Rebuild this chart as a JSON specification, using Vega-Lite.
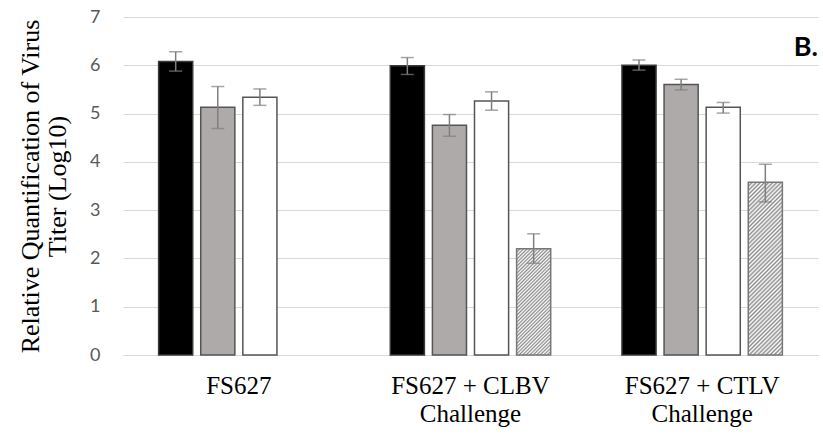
{
  "$schema": "https://vega.github.io/schema/vega-lite/v6.json",
  "width": 695,
  "height": 338,
  "autosize": {"type": "none"},
  "padding": {"left": 123, "top": 17, "right": 5, "bottom": 81},
  "background": "white",
  "config": {"view": {"stroke": null}},
  "title": {"text": "B.", "anchor": "end", "frame": "group", "offset": -75, "font": "Lato", "fontSize": 27, "fontWeight": "bold", "color": "#000000", "baseline": "alphabetic"},
  "data": {
    "values": [
      {"group": "FS627", "series": "S1", "value": 6.08, "lo": 5.88, "hi": 6.28},
      {"group": "FS627", "series": "S2", "value": 5.13, "lo": 4.69, "hi": 5.56},
      {"group": "FS627", "series": "S3", "value": 5.34, "lo": 5.17, "hi": 5.51},
      {"group": "FS627 + CLBV Challenge", "series": "S1", "value": 5.99, "lo": 5.81, "hi": 6.16},
      {"group": "FS627 + CLBV Challenge", "series": "S2", "value": 4.76, "lo": 4.53, "hi": 4.98},
      {"group": "FS627 + CLBV Challenge", "series": "S3", "value": 5.26, "lo": 5.07, "hi": 5.45},
      {"group": "FS627 + CLBV Challenge", "series": "S4", "value": 2.2, "lo": 1.9, "hi": 2.51},
      {"group": "FS627 + CTLV Challenge", "series": "S1", "value": 6.0, "lo": 5.9, "hi": 6.11},
      {"group": "FS627 + CTLV Challenge", "series": "S2", "value": 5.6, "lo": 5.49, "hi": 5.71},
      {"group": "FS627 + CTLV Challenge", "series": "S3", "value": 5.13, "lo": 5.01, "hi": 5.23},
      {"group": "FS627 + CTLV Challenge", "series": "S4", "value": 3.58, "lo": 3.17, "hi": 3.95}
    ]
  },
  "encoding": {
    "x": {
      "field": "group", "type": "nominal",
      "sort": ["FS627", "FS627 + CLBV Challenge", "FS627 + CTLV Challenge"],
      "scale": {"paddingInner": 0.273, "paddingOuter": 0.1365},
      "axis": {
        "title": null, "labelAngle": 0, "ticks": false, "tickSize": 0,
        "domain": true, "domainColor": "#d9d9d9", "domainWidth": 1,
        "labelFont": "Liberation Serif", "labelFontSize": 25, "labelColor": "#000000",
        "labelPadding": 18, "labelLineHeight": 28,
        "labelExpr": "indexof(datum.label, ' Challenge') > 0 ? [replace(datum.label, ' Challenge', ''), 'Challenge'] : datum.label"
      }
    },
    "xOffset": {
      "field": "series", "type": "nominal", "sort": ["S1", "S2", "S3", "S4"],
      "scale": {"paddingInner": 0.19, "paddingOuter": 0.095}
    }
  },
  "layer": [
    {
      "mark": {"type": "bar", "strokeWidth": 1.5},
      "encoding": {
        "y": {
          "field": "value", "type": "quantitative",
          "scale": {"domain": [0, 7], "nice": false},
          "axis": {
            "values": [0, 1, 2, 3, 4, 5, 6, 7], "domain": false, "ticks": false, "tickSize": 0,
            "grid": true, "gridColor": "#d9d9d9", "gridWidth": 1,
            "labelFont": "Lato", "labelFontSize": 18, "labelColor": "#595959", "labelPadding": 23,
            "title": ["Relative Quantification of Virus", "Titer (Log10)"],
            "titleFont": "Liberation Serif", "titleFontSize": 26, "titleFontWeight": "normal",
            "titleColor": "#000000", "titlePadding": 19, "titleLineHeight": 27
          }
        },
        "fill": {
          "field": "series", "type": "nominal", "legend": null,
          "scale": {"domain": ["S1", "S2", "S3", "S4"], "range": ["#000000", "#aeaaaa", "#ffffff", "#d0d0d0"]},
          "condition": [
            {
              "test": "datum.series === 'S4' && datum.group === 'FS627 + CLBV Challenge'",
              "value": {
                "gradient": "linear", "x1": 0, "y1": 0, "x2": 0.3834, "y2": 1.1975,
                "stops": [
                  {"offset": 0, "color": "#8c8c8c"}, {"offset": 0.0125, "color": "#ffffff"},
                  {"offset": 0.025, "color": "#8c8c8c"}, {"offset": 0.0375, "color": "#ffffff"},
                  {"offset": 0.05, "color": "#8c8c8c"}, {"offset": 0.0625, "color": "#ffffff"},
                  {"offset": 0.075, "color": "#8c8c8c"}, {"offset": 0.0875, "color": "#ffffff"},
                  {"offset": 0.1, "color": "#8c8c8c"}, {"offset": 0.1125, "color": "#ffffff"},
                  {"offset": 0.125, "color": "#8c8c8c"}, {"offset": 0.1375, "color": "#ffffff"},
                  {"offset": 0.15, "color": "#8c8c8c"}, {"offset": 0.1625, "color": "#ffffff"},
                  {"offset": 0.175, "color": "#8c8c8c"}, {"offset": 0.1875, "color": "#ffffff"},
                  {"offset": 0.2, "color": "#8c8c8c"}, {"offset": 0.2125, "color": "#ffffff"},
                  {"offset": 0.225, "color": "#8c8c8c"}, {"offset": 0.2375, "color": "#ffffff"},
                  {"offset": 0.25, "color": "#8c8c8c"}, {"offset": 0.2625, "color": "#ffffff"},
                  {"offset": 0.275, "color": "#8c8c8c"}, {"offset": 0.2875, "color": "#ffffff"},
                  {"offset": 0.3, "color": "#8c8c8c"}, {"offset": 0.3125, "color": "#ffffff"},
                  {"offset": 0.325, "color": "#8c8c8c"}, {"offset": 0.3375, "color": "#ffffff"},
                  {"offset": 0.35, "color": "#8c8c8c"}, {"offset": 0.3625, "color": "#ffffff"},
                  {"offset": 0.375, "color": "#8c8c8c"}, {"offset": 0.3875, "color": "#ffffff"},
                  {"offset": 0.4, "color": "#8c8c8c"}, {"offset": 0.4125, "color": "#ffffff"},
                  {"offset": 0.425, "color": "#8c8c8c"}, {"offset": 0.4375, "color": "#ffffff"},
                  {"offset": 0.45, "color": "#8c8c8c"}, {"offset": 0.4625, "color": "#ffffff"},
                  {"offset": 0.475, "color": "#8c8c8c"}, {"offset": 0.4875, "color": "#ffffff"},
                  {"offset": 0.5, "color": "#8c8c8c"}, {"offset": 0.5125, "color": "#ffffff"},
                  {"offset": 0.525, "color": "#8c8c8c"}, {"offset": 0.5375, "color": "#ffffff"},
                  {"offset": 0.55, "color": "#8c8c8c"}, {"offset": 0.5625, "color": "#ffffff"},
                  {"offset": 0.575, "color": "#8c8c8c"}, {"offset": 0.5875, "color": "#ffffff"},
                  {"offset": 0.6, "color": "#8c8c8c"}, {"offset": 0.6125, "color": "#ffffff"},
                  {"offset": 0.625, "color": "#8c8c8c"}, {"offset": 0.6375, "color": "#ffffff"},
                  {"offset": 0.65, "color": "#8c8c8c"}, {"offset": 0.6625, "color": "#ffffff"},
                  {"offset": 0.675, "color": "#8c8c8c"}, {"offset": 0.6875, "color": "#ffffff"},
                  {"offset": 0.7, "color": "#8c8c8c"}, {"offset": 0.7125, "color": "#ffffff"},
                  {"offset": 0.725, "color": "#8c8c8c"}, {"offset": 0.7375, "color": "#ffffff"},
                  {"offset": 0.75, "color": "#8c8c8c"}, {"offset": 0.7625, "color": "#ffffff"},
                  {"offset": 0.775, "color": "#8c8c8c"}, {"offset": 0.7875, "color": "#ffffff"},
                  {"offset": 0.8, "color": "#8c8c8c"}, {"offset": 0.8125, "color": "#ffffff"},
                  {"offset": 0.825, "color": "#8c8c8c"}, {"offset": 0.8375, "color": "#ffffff"},
                  {"offset": 0.85, "color": "#8c8c8c"}, {"offset": 0.8625, "color": "#ffffff"},
                  {"offset": 0.875, "color": "#8c8c8c"}, {"offset": 0.8875, "color": "#ffffff"},
                  {"offset": 0.9, "color": "#8c8c8c"}, {"offset": 0.9125, "color": "#ffffff"},
                  {"offset": 0.925, "color": "#8c8c8c"}, {"offset": 0.9375, "color": "#ffffff"},
                  {"offset": 0.95, "color": "#8c8c8c"}, {"offset": 0.9625, "color": "#ffffff"},
                  {"offset": 0.975, "color": "#8c8c8c"}, {"offset": 0.9875, "color": "#ffffff"},
                  {"offset": 1, "color": "#8c8c8c"}
                ]
              }
            },
            {
              "test": "datum.series === 'S4' && datum.group === 'FS627 + CTLV Challenge'",
              "value": {
                "gradient": "linear", "x1": 0, "y1": 0, "x2": 0.2266, "y2": 1.1521,
                "stops": [
                  {"offset": 0, "color": "#8c8c8c"}, {"offset": 0.01, "color": "#ffffff"},
                  {"offset": 0.02, "color": "#8c8c8c"}, {"offset": 0.03, "color": "#ffffff"},
                  {"offset": 0.04, "color": "#8c8c8c"}, {"offset": 0.05, "color": "#ffffff"},
                  {"offset": 0.06, "color": "#8c8c8c"}, {"offset": 0.07, "color": "#ffffff"},
                  {"offset": 0.08, "color": "#8c8c8c"}, {"offset": 0.09, "color": "#ffffff"},
                  {"offset": 0.1, "color": "#8c8c8c"}, {"offset": 0.11, "color": "#ffffff"},
                  {"offset": 0.12, "color": "#8c8c8c"}, {"offset": 0.13, "color": "#ffffff"},
                  {"offset": 0.14, "color": "#8c8c8c"}, {"offset": 0.15, "color": "#ffffff"},
                  {"offset": 0.16, "color": "#8c8c8c"}, {"offset": 0.17, "color": "#ffffff"},
                  {"offset": 0.18, "color": "#8c8c8c"}, {"offset": 0.19, "color": "#ffffff"},
                  {"offset": 0.2, "color": "#8c8c8c"}, {"offset": 0.21, "color": "#ffffff"},
                  {"offset": 0.22, "color": "#8c8c8c"}, {"offset": 0.23, "color": "#ffffff"},
                  {"offset": 0.24, "color": "#8c8c8c"}, {"offset": 0.25, "color": "#ffffff"},
                  {"offset": 0.26, "color": "#8c8c8c"}, {"offset": 0.27, "color": "#ffffff"},
                  {"offset": 0.28, "color": "#8c8c8c"}, {"offset": 0.29, "color": "#ffffff"},
                  {"offset": 0.3, "color": "#8c8c8c"}, {"offset": 0.31, "color": "#ffffff"},
                  {"offset": 0.32, "color": "#8c8c8c"}, {"offset": 0.33, "color": "#ffffff"},
                  {"offset": 0.34, "color": "#8c8c8c"}, {"offset": 0.35, "color": "#ffffff"},
                  {"offset": 0.36, "color": "#8c8c8c"}, {"offset": 0.37, "color": "#ffffff"},
                  {"offset": 0.38, "color": "#8c8c8c"}, {"offset": 0.39, "color": "#ffffff"},
                  {"offset": 0.4, "color": "#8c8c8c"}, {"offset": 0.41, "color": "#ffffff"},
                  {"offset": 0.42, "color": "#8c8c8c"}, {"offset": 0.43, "color": "#ffffff"},
                  {"offset": 0.44, "color": "#8c8c8c"}, {"offset": 0.45, "color": "#ffffff"},
                  {"offset": 0.46, "color": "#8c8c8c"}, {"offset": 0.47, "color": "#ffffff"},
                  {"offset": 0.48, "color": "#8c8c8c"}, {"offset": 0.49, "color": "#ffffff"},
                  {"offset": 0.5, "color": "#8c8c8c"}, {"offset": 0.51, "color": "#ffffff"},
                  {"offset": 0.52, "color": "#8c8c8c"}, {"offset": 0.53, "color": "#ffffff"},
                  {"offset": 0.54, "color": "#8c8c8c"}, {"offset": 0.55, "color": "#ffffff"},
                  {"offset": 0.56, "color": "#8c8c8c"}, {"offset": 0.57, "color": "#ffffff"},
                  {"offset": 0.58, "color": "#8c8c8c"}, {"offset": 0.59, "color": "#ffffff"},
                  {"offset": 0.6, "color": "#8c8c8c"}, {"offset": 0.61, "color": "#ffffff"},
                  {"offset": 0.62, "color": "#8c8c8c"}, {"offset": 0.63, "color": "#ffffff"},
                  {"offset": 0.64, "color": "#8c8c8c"}, {"offset": 0.65, "color": "#ffffff"},
                  {"offset": 0.66, "color": "#8c8c8c"}, {"offset": 0.67, "color": "#ffffff"},
                  {"offset": 0.68, "color": "#8c8c8c"}, {"offset": 0.69, "color": "#ffffff"},
                  {"offset": 0.7, "color": "#8c8c8c"}, {"offset": 0.71, "color": "#ffffff"},
                  {"offset": 0.72, "color": "#8c8c8c"}, {"offset": 0.73, "color": "#ffffff"},
                  {"offset": 0.74, "color": "#8c8c8c"}, {"offset": 0.75, "color": "#ffffff"},
                  {"offset": 0.76, "color": "#8c8c8c"}, {"offset": 0.77, "color": "#ffffff"},
                  {"offset": 0.78, "color": "#8c8c8c"}, {"offset": 0.79, "color": "#ffffff"},
                  {"offset": 0.8, "color": "#8c8c8c"}, {"offset": 0.81, "color": "#ffffff"},
                  {"offset": 0.82, "color": "#8c8c8c"}, {"offset": 0.83, "color": "#ffffff"},
                  {"offset": 0.84, "color": "#8c8c8c"}, {"offset": 0.85, "color": "#ffffff"},
                  {"offset": 0.86, "color": "#8c8c8c"}, {"offset": 0.87, "color": "#ffffff"},
                  {"offset": 0.88, "color": "#8c8c8c"}, {"offset": 0.89, "color": "#ffffff"},
                  {"offset": 0.9, "color": "#8c8c8c"}, {"offset": 0.91, "color": "#ffffff"},
                  {"offset": 0.92, "color": "#8c8c8c"}, {"offset": 0.93, "color": "#ffffff"},
                  {"offset": 0.94, "color": "#8c8c8c"}, {"offset": 0.95, "color": "#ffffff"},
                  {"offset": 0.96, "color": "#8c8c8c"}, {"offset": 0.97, "color": "#ffffff"},
                  {"offset": 0.98, "color": "#8c8c8c"}, {"offset": 0.99, "color": "#ffffff"},
                  {"offset": 1, "color": "#8c8c8c"}
                ]
              }
            }
          ]
        },
        "stroke": {
          "field": "series", "type": "nominal", "legend": null,
          "scale": {"domain": ["S1", "S2", "S3", "S4"], "range": ["#3a3a3a", "#555555", "#555555", "#777777"]}
        }
      }
    },
    {
      "mark": {"type": "rule", "color": "#7f7f7f", "strokeWidth": 1.5},
      "encoding": {
        "y": {"field": "lo", "type": "quantitative"},
        "y2": {"field": "hi"}
      }
    },
    {
      "mark": {"type": "tick", "color": "#7f7f7f", "thickness": 1.5, "size": 13},
      "encoding": {"y": {"field": "hi", "type": "quantitative"}}
    },
    {
      "mark": {"type": "tick", "color": "#7f7f7f", "thickness": 1.5, "size": 13},
      "encoding": {"y": {"field": "lo", "type": "quantitative"}}
    }
  ]
}
